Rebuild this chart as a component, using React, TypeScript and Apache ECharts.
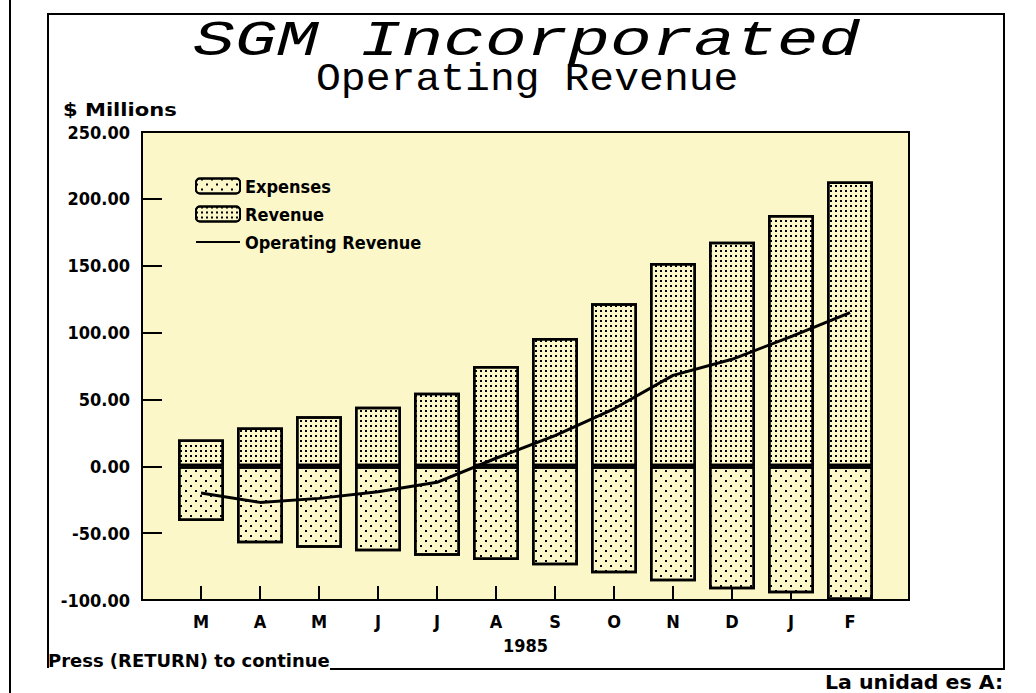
import React, { useEffect, useRef } from "react";
import * as echarts from "echarts";

const months = ["", "M", "A", "M", "J", "J", "A", "S", "O", "N", "D", "J", "F", ""];
const revenue: (number | string)[] = ["-", 20, 29, 37.5, 44.5, 55, 75, 96, 122, 152, 168, 188, 213, "-"];
const expenses: (number | string)[] = ["-", -41, -57.5, -61, -63.5, -67, -70, -74, -80, -86, -92, -95, -100, "-"];
const operating: (number | string)[] = ["-", -20, -27, -24, -19, -12, 6, 23, 43, 68, 80, 97, 115, "-"];
const yTicks = { min: -100, max: 250, interval: 50 };

const BOLD = '"DejaVu Sans Condensed", "Liberation Sans Narrow", "Roboto Condensed", "DejaVu Sans", sans-serif';
const YEL = "#FBF7C9";

export default function App() {
  const ref = useRef<HTMLDivElement>(null);
  useEffect(() => {
    const chart = echarts.init(ref.current!, null, { renderer: "svg" });
    chart.setOption({
      animation: false,
      backgroundColor: "#ffffff",
      grid: {
        left: 142,
        right: 127,
        top: 132,
        bottom: 93,
        show: true,
        backgroundColor: YEL,
        borderColor: "#000",
        borderWidth: 2,
      },
      legend: {
        orient: "vertical",
        left: 195,
        top: 177,
        itemWidth: 44,
        itemHeight: 15,
        itemGap: 10,
        padding: 0,
        textStyle: { color: "#000", fontWeight: "bold", fontSize: 18, fontFamily: BOLD },
        data: [
          "Expenses",
          "Revenue",
          { name: "Operating Revenue", itemStyle: { opacity: 0 } },
        ],
      },
      xAxis: {
        type: "category",
        data: months,
        boundaryGap: false,
        name: "1985",
        nameLocation: "middle",
        nameGap: 36,
        nameTextStyle: { color: "#000", fontWeight: "bold", fontSize: 18, fontFamily: BOLD },
        axisLine: { show: true, onZero: false, lineStyle: { color: "#000", width: 2 } },
        axisTick: {
          show: true,
          inside: true,
          length: 14,
          interval: (i: number) => i > 0 && i < months.length - 1,
          lineStyle: { color: "#000", width: 2 },
        },
        axisLabel: { interval: 0, color: "#000", fontWeight: "bold", fontSize: 18, fontFamily: BOLD, margin: 12 },
        splitLine: { show: false },
      },
      yAxis: {
        type: "value",
        min: yTicks.min,
        max: yTicks.max,
        interval: yTicks.interval,
        axisLine: { show: true, lineStyle: { color: "#000", width: 2 } },
        axisTick: { show: true, inside: true, length: 20, lineStyle: { color: "#000", width: 2 } },
        axisLabel: {
          color: "#000",
          fontWeight: "bold",
          fontSize: 18,
          fontFamily: BOLD,
          margin: 12,
          formatter: (v: number) => v.toFixed(2),
        },
        splitLine: { show: false },
      },
      series: [
        {
          name: "Expenses",
          type: "bar",
          data: expenses,
          barWidth: 46,
          barGap: "-100%",
          itemStyle: {
            color: YEL,
            borderColor: "#000",
            borderWidth: 2.5,
            decal: {
              symbol: "rect",
              symbolSize: 1,
              color: "#000",
              dashArrayX: [[2, 8], [0, 5, 2, 3]],
              dashArrayY: [2, 3],
              rotation: 0,
            },
          },
        },
        {
          name: "Revenue",
          type: "bar",
          data: revenue,
          barWidth: 46,
          itemStyle: {
            color: YEL,
            borderColor: "#000",
            borderWidth: 2.5,
            decal: {
              symbol: "rect",
              symbolSize: 1,
              color: "#000",
              dashArrayX: [2, 3],
              dashArrayY: [2, 3],
              rotation: 0,
            },
          },
        },
        {
          name: "Operating Revenue",
          type: "line",
          data: operating,
          symbol: "none",
          z: 5,
          lineStyle: { color: "#000", width: 3 },
          itemStyle: { color: "#000" },
        },
      ],
      graphic: [
        { type: "line", shape: { x1: 10, y1: 0, x2: 10, y2: 693 }, style: { stroke: "#000", lineWidth: 2 } },
        {
          type: "polyline",
          shape: { points: [[48, 668], [48, 14], [1004, 14], [1004, 669], [330, 669]] },
          style: { stroke: "#000", lineWidth: 2, fill: "none" },
        },
        {
          type: "text",
          x: 193,
          y: 42,
          scaleX: 1.39,
          style: {
            text: "SGM Incorporated",
            fill: "#000",
            fontSize: 50,
            fontStyle: "italic",
            fontFamily: '"Liberation Mono", monospace',
            textAlign: "left",
            textVerticalAlign: "middle",
          },
        },
        {
          type: "text",
          x: 316,
          y: 80,
          scaleX: 1.09,
          style: {
            text: "Operating Revenue",
            fill: "#000",
            fontSize: 38,
            fontFamily: '"Liberation Mono", monospace',
            textAlign: "left",
            textVerticalAlign: "middle",
          },
        },
        {
          type: "text",
          x: 63,
          y: 110,
          scaleX: 1.3,
          style: { text: "$ Millions", fill: "#000", fontSize: 18, fontWeight: "bold", fontFamily: BOLD, textAlign: "left", textVerticalAlign: "middle" },
        },
        {
          type: "text",
          x: 48,
          y: 660,
          scaleX: 1.11,
          style: { text: "Press (RETURN) to continue", fill: "#000", fontSize: 18, fontWeight: "bold", fontFamily: BOLD, textAlign: "left", textVerticalAlign: "middle" },
        },
        {
          type: "text",
          x: 825,
          y: 683,
          scaleX: 1.2,
          style: { text: "La unidad es A:", fill: "#000", fontSize: 19, fontWeight: "bold", fontFamily: BOLD, textAlign: "left", textVerticalAlign: "middle" },
        },
      ],
    });
    return () => chart.dispose();
  }, []);
  return <div ref={ref} style={{ position: "absolute", left: 0, top: 0, width: 1036, height: 693 }} />;
}
